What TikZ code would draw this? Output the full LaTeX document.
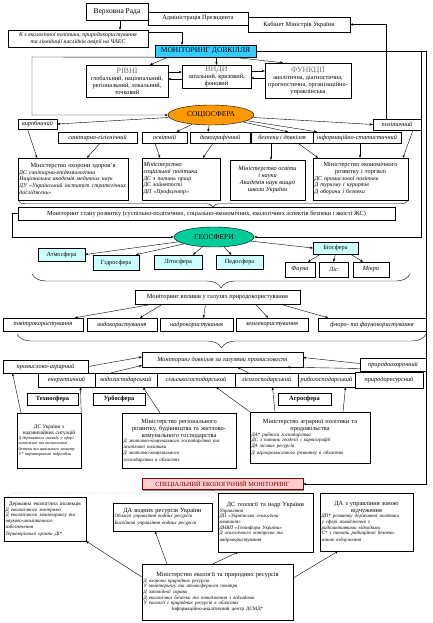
\documentclass[tikz,border=0pt]{standalone}
\usepackage{fontspec}
\setmainfont{Liberation Serif}
\usepackage{tikz}
\usetikzlibrary{arrows.meta, calc, shapes.geometric, shadows, decorations.pathreplacing}
\definecolor{mdcyan}{RGB}{51,204,255}
\definecolor{soorange}{RGB}{255,153,0}
\definecolor{geogreen}{RGB}{0,204,153}
\definecolor{sphcyan}{RGB}{204,255,255}
\definecolor{sempink}{RGB}{255,204,204}
\newcommand{\fHd}{\fontsize{7.5}{8.2}\selectfont}
\newcommand{\fNm}{\fontsize{6.3}{7}\selectfont}
\newcommand{\fSm}{\fontsize{5.8}{6.5}\selectfont\itshape}
\newcommand{\fMd}{\fontsize{5.3}{6}\selectfont}
\newcommand{\fTn}{\fontsize{5}{5.7}\selectfont}
\newcommand{\fXs}{\fontsize{4.2}{5.2}\selectfont}
\newcommand{\fTl}{\fontsize{8}{8.8}\selectfont\color{black!55}}
\tikzset{>={Stealth[length=3pt,width=2.4pt]}}
\tikzset{
  shd/.style={drop shadow={shadow xshift=1pt, shadow yshift=-1pt, fill=black!45, opacity=1}},
  bx/.style={draw, fill=white, shd, inner sep=1pt, align=center, font=\fNm},
  ibx/.style={bx, font=\fNm\itshape},
  hbx/.style={bx, font=\fHd},
  sph/.style={bx, fill=sphcyan},
  mbx/.style={draw, fill=white, shd, inner sep=1.5pt, align=left, font=\fNm},
  ell/.style={ellipse, draw, inner sep=0pt, font=\fHd},
  brc/.style={decorate, decoration={brace, mirror, amplitude=#1}},
  brc/.default=8
}

\begin{document}
\begin{tikzpicture}[x=1pt,y=-1pt]
\useasboundingbox (0,0) rectangle (433,623);
\node[hbx, minimum width=62, minimum height=17] (vr) at (117,11.5) {Верховна Рада};
\node[bx, minimum width=100, minimum height=13] (ap) at (198,18.5) {Адміністрація Президента};
\node[bx, minimum width=102, minimum height=15] (km) at (299,24.5) {Кабінет Міністрів України};
\node[bx, font=\fSm, minimum width=140, minimum height=17] (kz) at (78,38.5) {К з екологічної політики, природокористування\\та ліквідації наслідків аварії на ЧАЕС};
\node[hbx, fill=mdcyan, minimum width=101, minimum height=12] (md) at (205.5,51) {МОНІТОРИНГ ДОВКІЛЛЯ};
\node[bx, minimum width=82, minimum height=32] (rivni) at (127,81) {{\fTl РІВНІ}\\глобальний, національний,\\регіональний, локальний,\\точковий};
\node[bx, minimum width=69, minimum height=23] (vydy) at (216.5,76.5) {{\fTl ВИДИ}\\загальний, кризовий,\\фоновий};
\node[bx, minimum width=86, minimum height=35] (funk) at (308,80.5) {{\fTl ФУНКЦІЇ}\\аналітична, діагностична,\\прогностична, організаційно-\\управлінська};
\draw[->] ([xshift=3]vr.south) -- ([xshift=42]kz.north);
\draw[->] ([yshift=-2]kz.north east) -| ([xshift=-23.5]md.north);
\draw[->] ([xshift=-37.5]md.south) -- ([xshift=23]rivni.north);
\draw[->] (md.south -| vydy.north) -- (vydy.north);
\draw[->] ([xshift=27]md.south) -- ([xshift=-25]funk.north);
\draw[->] ([yshift=9]rivni.east) -- ([yshift=4.5]vydy.west);
\draw[<-] ([yshift=2]rivni.east) -- ([yshift=-2.5]vydy.west);
\draw[->] ([yshift=5.5]vydy.east) -- ([yshift=9.5]funk.west);
\draw[<-] ([yshift=-1.5]vydy.east) -- ([yshift=2.5]funk.west);

\node[ell, fill=soorange, minimum width=86, minimum height=20] (so) at (211,115) {СОЦІОСФЕРА};
\coordinate (lp1) at (32,57);
\draw[->] (md.south west) -- (lp1) |- (so.west);
\coordinate (rp1) at (421,51);
\coordinate (rp2) at (426,51);
\draw (md.east) -- (rp2);
\node[ibx, minimum width=48, minimum height=11] (pol) at (397,124.5) {політичний};
\draw[->] ([xshift=-11]pol.north) |- (km.east);
\node[ibx, minimum width=39, minimum height=10] (vyr) at (37.5,124) {виробничий};
\node[ibx, minimum width=79, minimum height=11] (san) at (97.5,137.5) {санітарно-гігієнічний};
\node[ibx, minimum width=45, minimum height=11] (osv) at (164.5,137.5) {освітній};
\node[ibx, minimum width=60, minimum height=11] (dem) at (220,137.5) {демографічний};
\node[ibx, minimum width=62, minimum height=11] (bez) at (282,137.5) {безпеки і довкілля};
\node[ibx, minimum width=88, minimum height=11] (inf) at (357,137.5) {інформаційно-статистичний};
\draw[->] (so) -- (vyr.east);
\draw[->] (so) -- ([xshift=12]osv.north);
\draw[->] (so) -- ([xshift=-12]dem.north);
\draw[->] (so) -- ([xshift=6]bez.north);
\draw[->] (so) -- ([xshift=-40]inf.north);
\draw[->] (so) -- (pol.west);

\node[mbx, text width=107, minimum height=42] (m1) at (73,179) {\centering\fNm Міністерство охорони здоров’я\par\raggedright\fSm ДС санітарно-епідеміологічна\\Національна академія медичних наук\\ДУ «Український інститут стратегічних\\досліджень»};
\node[mbx, text width=75, minimum height=42] (m2) at (181,179) {\itshape Міністерство\\соціальної політики\\\fSm ДС з питань праці\\ДС зайнятості\\ДП «Профцентр»};
\node[bx, font=\fNm\itshape, minimum width=75, minimum height=40] (m3) at (267.5,180) {Міністерство освіти\\і науки\\Академія наук вищої\\школи України};
\node[mbx, text width=92, minimum height=42] (m4) at (360.5,179) {\centering\fNm Міністерство економічного\\розвитку і торгівлі\par\raggedright\fSm ДС промислової політики\\Д туризму і курортів\\Д оборони і безпеки};
\draw[->] ([xshift=-10]vyr.south) -- ([xshift=-36]m1.north);
\draw[->] ([xshift=2.5]san.south) -- ([xshift=14]m1.north);
\draw[->] ([xshift=-9.5]osv.south) -- ([xshift=-21]m2.north);
\draw[->] ([xshift=-7]dem.south) -- ([xshift=22]m2.north);
\draw[->] ([xshift=-11]bez.south) -- ([xshift=3.5]m3.north);
\draw[->] ([xshift=16]bez.south) -- ([xshift=-42.5]m4.north);
\draw[->] ([xshift=3]inf.south) -- ([xshift=-0.5]m4.north);
\draw[->] ([xshift=16]pol.south) -- ([xshift=42.5]m4.north);
\draw[brc=7] (m1.south west) -- (m4.south east);

\node[bx, minimum width=377, minimum height=13] (ms) at (206.5,213.5) {Моніторинг стану розвитку (суспільно-політичних, соціально-економічних, екологічних аспектів безпеки і якості ЖС)};
\node[ell, fill=geogreen, minimum width=80, minimum height=20] (geo) at (214,237) {ГЕОСФЕРИ};
\coordinate (lp2) at (12,213.5);
\draw[->] (ms.west) -- (lp2) |- (geo.west);
\draw[->] (rp1) |- (geo.east);
\node[sph, minimum width=47, minimum height=13] (atm) at (61.5,254.5) {Атмосфера};
\node[sph, minimum width=46, minimum height=15] (gid) at (116,262.5) {Гідросфера};
\node[sph, minimum width=48, minimum height=14] (lit) at (178,262) {Літосфера};
\node[sph, minimum width=47, minimum height=14] (ped) at (239.5,262) {Педосфера};
\node[sph, minimum width=45, minimum height=12] (bio) at (335.5,248) {Біосфера};
\node[ibx, minimum width=30, minimum height=15] (fau) at (300,269.5) {Фауна};
\node[ibx, minimum width=29, minimum height=15] (lis) at (333.5,269.5) {Ліс};
\node[ibx, minimum width=36, minimum height=15] (mik) at (371,269.5) {Мікро};
\draw[->] (geo) -- (atm.east);
\draw[->] (geo) -- ([xshift=20]gid.north);
\draw[->] (geo) -- ([xshift=15]lit.north);
\draw[->] (geo) -- ([xshift=-8]ped.north);
\draw[->] (geo) -- (bio.west);
\draw[->] ([xshift=-15]bio.south) -- ([xshift=8]fau.north);
\draw[->] (bio.south) -- (lis.north);
\draw[->] ([xshift=15]bio.south) -- ([xshift=-8]mik.north);
\coordinate (b2l) at (32,274);
\coordinate (b2r) at (410,274);
\draw[brc=14] (b2l) -- (b2r);

\node[bx, minimum width=165, minimum height=14] (mv) at (217.5,297) {Моніторинг впливів у галузях природокористування};
\node[ibx, minimum width=80, minimum height=13] (pov) at (43,324.5) {повітрокористування};
\node[ibx, minimum width=70, minimum height=13] (vod) at (122,324.5) {водокористування};
\node[ibx, minimum width=73, minimum height=13] (nad) at (196.5,324.5) {надрокористування};
\node[ibx, minimum width=72, minimum height=13] (zem) at (272,324.5) {землекористування};
\node[ibx, minimum width=108, minimum height=13] (ffk) at (372,324.5) {флоро- та фаунокористування};
\draw[->] ([xshift=-65]mv.south) -- ([xshift=32]pov.north);
\draw[->] ([xshift=-55]mv.south) -- ([xshift=18]vod.north);
\draw[->] ([xshift=-12]mv.south) -- ([xshift=7]nad.north);
\draw[->] ([xshift=38]mv.south) -- ([xshift=-4]zem.north);
\draw[->] ([xshift=63]mv.south) -- ([xshift=-44]ffk.north);
\coordinate (b3l) at (17,334);
\coordinate (b3r) at (426,334);
\draw[brc=14] (b3l) -- (b3r);

\node[ibx, minimum width=161, minimum height=15] (mp) at (222.5,359.5) {Моніторинг довкілля за галузями промисловості};
\node[ibx, minimum width=85, minimum height=13] (pa) at (45.5,366.5) {промислово-аграрний};
\node[ibx, minimum width=57, minimum height=14] (en) at (66.5,380) {енергетичний};
\node[ibx, minimum width=62, minimum height=14] (vg) at (126,380) {водогосподарський};
\node[ibx, minimum width=78, minimum height=14] (sg) at (196,380) {сільськогосподарський};
\node[ibx, minimum width=63, minimum height=14] (lg) at (266.5,380) {лісогосподарський};
\node[ibx, minimum width=57, minimum height=14] (rg) at (326.5,380) {рибогосподарський};
\node[ibx, minimum width=68, minimum height=16] (pr) at (389,380) {природоресурсний};
\node[ibx, minimum width=66, minimum height=13] (po) at (393,364.5) {природоохоронний};
\draw[->] (pa.east) -- ([yshift=2.5]mp.west);
\draw[->] ([xshift=-15]vg.north) -- ([yshift=-6]mp.west);
\draw[->] ([xshift=-18]lg.north) -- ([xshift=15]mp.south);
\draw[->] ([yshift=1]po.west) -- ([yshift=2]mp.east);
\draw[->] ([yshift=-4]po.west) -- ([xshift=65]mp.south);

\node[bx, font=\fNm\bfseries, minimum width=51, minimum height=12] (tex) at (52.5,399) {Техносфера};
\node[bx, font=\fNm\bfseries, minimum width=52, minimum height=12] (urb) at (119,399) {Урбосфера};
\node[bx, font=\fNm\bfseries, minimum width=53, minimum height=12] (agr) at (304.5,399) {Агросфера};
\node[mbx, font=\fXs, text width=61, minimum height=55] (dsn) at (49,440.5) {\centering\fMd ДС України з\\надзвичайних ситуацій\par\raggedright\fXs\itshape Д державного нагляду у сфері\\пожежної та техногенної\\безпеки та цивільного захисту\\У* територіальні підрозділи\par};
\node[mbx, text width=111, minimum height=55] (mrr) at (179,440.5) {\centering\fNm Міністерство регіонального\\розвитку, будівництва та житлово-\\комунального господарства\par\raggedright\fTn\itshape Д житлово-комунального господарства та\\житлової політики\\Д житлово-комунального\\господарства в областях};
\node[mbx, text width=117, minimum height=51] (map) at (310,437.5) {\centering\fNm Міністерство аграрної політики та\\продовольства\par\raggedright\fTn\itshape ДА* рибного господарства\\ДС з питань геодезії і картографії\\ДА лісових ресурсів\\Д агропромислового розвитку в областях};
\draw[->] ([xshift=-28]dsn.north) -- ([xshift=-33]pa.south);
\draw[->] (dsn.north east) -- ([xshift=14]en.south);
\draw[->] ([xshift=-19]mrr.north) -- ([xshift=17]vg.south);
\draw[->] (map.north west) -- ([xshift=20]sg.south);
\draw[->] ([xshift=-35]map.north) -- ([xshift=6]lg.south);
\draw[->] ([xshift=33]map.north) -- ([xshift=19]rg.south);

\node[bx, fill=sempink, draw=red!50!black, text=red!40!black, minimum width=161, minimum height=11] (sem) at (222.5,484) {СПЕЦІАЛЬНИЙ ЕКОЛОГІЧНИЙ МОНІТОРИНГ};
\draw[->] (rp2) |- (sem.east);
\coordinate (b4l) at (8,497);
\coordinate (b4r) at (415,497);
\draw[dotted, decorate, decoration={brace, amplitude=8}] (b4l) -- (b4r);
\node[mbx, text width=79, minimum height=44] (dei) at (45,519) {\centering\fMd Державна екологічна інспекція\par\raggedright\fTn\itshape Д екологічного контролю\\Д екологічного моніторингу та\\науково-аналітичного\\забезпечення\\Територіальні органи ДІ*};
\node[mbx, text width=96, minimum height=28] (dav) at (162.5,517) {\centering\fNm ДА водних ресурсів України\par\raggedright\fTn\itshape Обласні управління водних ресурсів\\Басейнові управління водних ресурсів};
\node[mbx, text width=92, minimum height=59] (dsg) at (265.5,522.5) {\centering\fNm ДС геології та надр України\par\raggedright\fTn\itshape Управління\\ДП «Українська геологічна\\компанія»\\ДНВП «Геоінформ України»\\Д геологічного контролю та\\надрокористування};
\node[mbx, text width=90, minimum height=58] (daz) at (366.5,522) {\centering\fNm ДА з управління зоною\\відчуження\par\raggedright\fTn\itshape ДП* розвитку державної політики\\у сфері поводження з\\радіоактивними відходами\\С* з питань радіаційної безпеки\\зоною відчуження};
\node[mbx, text width=148, minimum height=56] (mep) at (217.5,592) {\centering\fNm Міністерство екології та природних ресурсів\par\raggedright\fTn\itshape Д охорони природних ресурсів\\У моніторингу та атмосферного повітря\\Д заповідної справи\\Д екологічної безпеки та поводження з відходами\\У екології і природних ресурсів в областях\par\centering\upshape Інформаційно-аналітичний центр ДСМД*\par};
\draw[->] ([yshift=15]mep.west) -- (dei.south east);
\draw[->] ([xshift=-50.5]mep.north) -- ([xshift=-7.5]dav.south);
\draw[->] ([xshift=-4.5]mep.north) -- ([xshift=-27.5]dsg.south);
\draw[->] ([yshift=14]mep.east) -- ([xshift=-28.5]daz.south);
\end{tikzpicture}
\end{document}
